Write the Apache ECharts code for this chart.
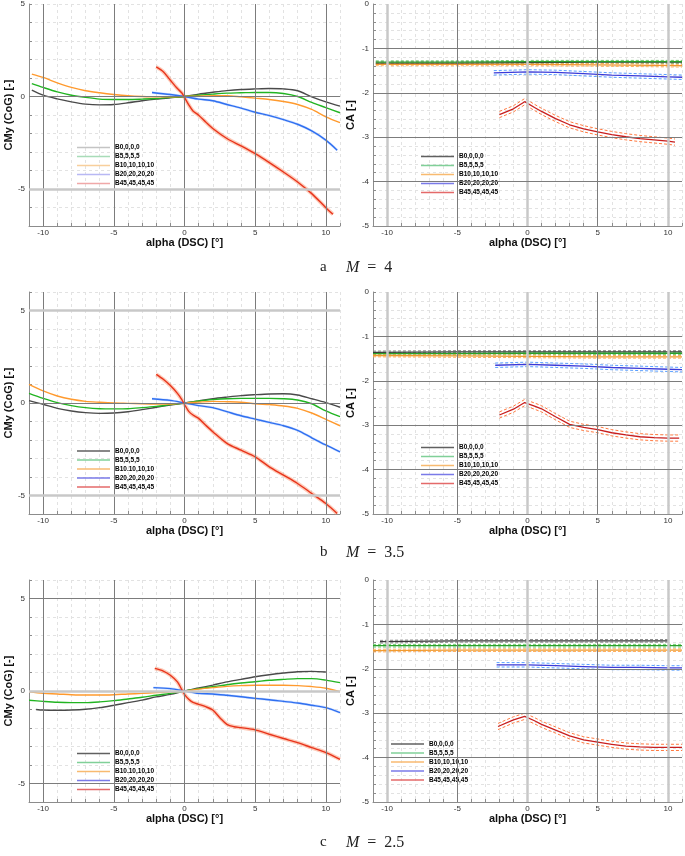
<!DOCTYPE html>
<html>
<head>
<meta charset="utf-8">
<script src="https://cdn.jsdelivr.net/npm/echarts@6/dist/echarts.min.js"></script>
<style>
  html, body { margin: 0; padding: 0; background: #fff; }
  #chart { width: 685px; height: 856px; }
</style>
</head>
<body>
<div id="chart"></div>
<script>
// legend names (panels b/c on the left have the "B10.10" typo of the original)
const configNames = ["B0,0,0,0", "B5,5,5,5", "B10,10,10,10", "B20,20,20,20", "B45,45,45,45"];
const configNamesAlt = ["B0,0,0,0", "B5,5,5,5", "B10.10,10,10", "B20,20,20,20", "B45,45,45,45"];
const panelLetters = ["a", "b", "c"];
const machNumbers = ["4", "3.5", "2.5"];

// ---- M = 4 : CMy ----
const alphaA_long = [-10.8, -10, -9, -8, -7, -6, -5, -4, -3, -2, -1, 0, 1, 2, 3, 4, 5, 6, 7, 8, 9, 10, 11];
const cmyA_B0 = [0.34, 0.07, -0.13, -0.29, -0.41, -0.45, -0.43, -0.34, -0.23, -0.14, -0.07, 0, 0.13, 0.23, 0.32, 0.38, 0.41, 0.43, 0.41, 0.31, -0.02, -0.29, -0.52];
const cmyA_B5 = [0.70, 0.49, 0.25, 0.07, -0.05, -0.14, -0.16, -0.16, -0.14, -0.11, -0.05, 0, 0.07, 0.13, 0.18, 0.20, 0.22, 0.22, 0.16, 0.00, -0.32, -0.60, -0.88];
const cmyA_B10 = [1.21, 1.03, 0.74, 0.49, 0.31, 0.20, 0.11, 0.04, 0.00, -0.02, -0.02, 0, 0.02, 0.04, 0.04, -0.02, -0.09, -0.16, -0.27, -0.43, -0.70, -1.10, -1.41];
const alphaA_b20 = [-2.3, -1, 0, 1, 2, 3, 4, 5, 6, 7, 8, 9, 10, 10.8];
const cmyA_B20 = [0.22, 0.11, 0, -0.14, -0.23, -0.43, -0.63, -0.85, -1.03, -1.25, -1.50, -1.86, -2.36, -2.90];
const alphaA_b45 = [-2, -1.5, -1, -0.5, -0.2, 0, 0.3, 0.6, 1, 1.5, 2, 3, 4, 5, 6, 7, 8, 9, 10, 10.5];
const cmyA_B45 = [1.60, 1.34, 0.88, 0.43, 0.20, -0.05, -0.45, -0.78, -1.01, -1.38, -1.73, -2.27, -2.67, -3.09, -3.57, -4.08, -4.62, -5.25, -6.01, -6.37];

// ---- M = 4 : CA ----
const alphaCaA = [-10.8, -5, 0, 5, 11];
const caA_B0 = [-1.33, -1.33, -1.32, -1.31, -1.31];
const caA_B5 = [-1.31, -1.31, -1.30, -1.30, -1.30];
const caA_B10 = [-1.36, -1.36, -1.36, -1.37, -1.39];
const alphaCaA_b20 = [-2.4, 0, 2, 4, 6, 8, 10, 11];
const caA_B20 = [-1.55, -1.53, -1.54, -1.57, -1.60, -1.62, -1.64, -1.65];
const alphaCaA_b45 = [-2, -1, -0.2, 0.5, 1, 2, 3, 4, 5, 6, 7, 8, 9, 10, 10.5];
const caA_B45 = [-2.49, -2.36, -2.20, -2.33, -2.42, -2.58, -2.72, -2.81, -2.88, -2.94, -2.99, -3.03, -3.06, -3.09, -3.11];

// ---- M = 3.5 : CMy ----
const alphaB_long = [-11, -10, -9, -8, -7, -6, -5, -4, -3, -2, -1, 0, 1, 2, 3, 4, 5, 6, 7, 8, 9, 10, 11];
const cmyB_B0 = [0.13, -0.07, -0.29, -0.43, -0.52, -0.56, -0.54, -0.47, -0.36, -0.23, -0.11, 0, 0.11, 0.23, 0.32, 0.40, 0.45, 0.49, 0.50, 0.43, 0.23, 0.02, -0.23];
const cmyB_B5 = [0.52, 0.25, 0.02, -0.14, -0.25, -0.31, -0.32, -0.31, -0.25, -0.18, -0.09, 0, 0.11, 0.18, 0.23, 0.25, 0.25, 0.25, 0.23, 0.16, -0.04, -0.43, -0.74];
const cmyB_B10 = [1.01, 0.65, 0.38, 0.20, 0.09, 0.04, 0.00, -0.02, -0.04, -0.05, -0.05, 0, 0.05, 0.09, 0.07, 0.04, -0.04, -0.09, -0.16, -0.29, -0.54, -0.88, -1.23];
const alphaB_b20 = [-2.3, -1, 0, 1, 2, 3, 4, 5, 6, 7, 8, 9, 10, 11];
const cmyB_B20 = [0.23, 0.14, 0, -0.14, -0.25, -0.47, -0.69, -0.87, -1.05, -1.23, -1.48, -1.88, -2.27, -2.64];
const alphaB_b45 = [-2, -1.5, -1, -0.5, -0.2, 0, 0.3, 0.6, 1, 1.5, 2, 3, 4, 5, 6, 7, 8, 9, 10, 10.8];
const cmyB_B45 = [1.55, 1.28, 0.94, 0.52, 0.20, -0.08, -0.45, -0.65, -0.83, -1.20, -1.55, -2.18, -2.55, -2.91, -3.45, -3.90, -4.35, -4.89, -5.43, -5.97];

// ---- M = 3.5 : CA ----
const alphaCaB = [-11, -5, 0, 5, 11];
const caB_B0 = [-1.36, -1.35, -1.35, -1.35, -1.35];
const caB_B5 = [-1.39, -1.39, -1.38, -1.38, -1.38];
const caB_B10 = [-1.43, -1.44, -1.45, -1.46, -1.46];
const alphaCaB_b20 = [-2.3, 0, 2, 4, 6, 8, 10, 11];
const caB_B20 = [-1.65, -1.63, -1.65, -1.67, -1.70, -1.72, -1.74, -1.75];
const alphaCaB_b45 = [-2, -1, -0.2, 0.5, 1, 2, 3, 4, 5, 6, 7, 8, 9, 10, 10.8];
const caB_B45 = [-2.77, -2.64, -2.49, -2.57, -2.63, -2.81, -2.98, -3.05, -3.10, -3.17, -3.22, -3.26, -3.28, -3.29, -3.29];

// ---- M = 2.5 : CMy ----
const alphaC_b0 = [-10.5, -10, -9, -8, -7, -6, -5, -4, -3, -2, -1, 0, 1, 2, 3, 4, 5, 6, 7, 8, 9, 10];
const cmyC_B0 = [-1.00, -1.03, -1.04, -1.03, -0.99, -0.90, -0.77, -0.63, -0.49, -0.32, -0.18, 0, 0.16, 0.32, 0.49, 0.63, 0.77, 0.88, 0.97, 1.04, 1.06, 1.03];
const alphaC_long = [-11, -10, -9, -8, -7, -6, -5, -4, -3, -2, -1, 0, 1, 2, 3, 4, 5, 6, 7, 8, 9, 10, 11];
const cmyC_B5 = [-0.50, -0.56, -0.61, -0.63, -0.63, -0.59, -0.52, -0.43, -0.34, -0.23, -0.13, 0, 0.13, 0.23, 0.34, 0.43, 0.50, 0.58, 0.63, 0.67, 0.67, 0.59, 0.45];
const cmyC_B10 = [-0.05, -0.13, -0.16, -0.20, -0.22, -0.22, -0.20, -0.16, -0.13, -0.09, -0.05, 0, 0.10, 0.18, 0.25, 0.29, 0.31, 0.31, 0.31, 0.29, 0.24, 0.15, -0.04];
const alphaC_b20 = [-2.2, -1, 0, 1, 2, 3, 4, 5, 6, 7, 8, 9, 10, 11];
const cmyC_B20 = [0.18, 0.13, 0, -0.13, -0.16, -0.23, -0.31, -0.40, -0.47, -0.56, -0.65, -0.77, -0.90, -1.17];
const alphaC_b45 = [-2.1, -1.5, -1, -0.5, -0.2, 0, 0.3, 0.6, 1, 1.5, 2, 2.5, 3, 3.5, 4, 5, 6, 7, 8, 9, 10, 11];
const cmyC_B45 = [1.22, 1.08, 0.85, 0.49, 0.09, -0.18, -0.45, -0.62, -0.72, -0.85, -1.03, -1.44, -1.80, -1.93, -1.98, -2.10, -2.34, -2.57, -2.79, -3.06, -3.33, -3.69];

// ---- M = 2.5 : CA ----
const alphaCaC_b0 = [-10.5, -5, 0, 5, 10];
const caC_B0 = [-1.39, -1.37, -1.37, -1.37, -1.37];
const alphaCaC = [-11, -5, 0, 5, 11];
const caC_B5 = [-1.48, -1.48, -1.48, -1.48, -1.48];
const caC_B10 = [-1.59, -1.58, -1.58, -1.58, -1.58];
const alphaCaC_b20 = [-2.2, 0, 2, 4, 6, 8, 10, 11];
const caC_B20 = [-1.91, -1.91, -1.93, -1.95, -1.97, -1.97, -1.98, -1.98];
const alphaCaC_b45 = [-2.1, -1, -0.2, 0.5, 1, 2, 3, 4, 5, 6, 7, 8, 9, 10, 11];
const caC_B45 = [-3.30, -3.15, -3.07, -3.17, -3.25, -3.38, -3.51, -3.60, -3.65, -3.70, -3.74, -3.76, -3.77, -3.77, -3.77];

// half width of the dashed uncertainty lines around CA, per configuration
const caSpread = [0.03, 0.03, 0.03, 0.05, 0.07];

// y ranges of the CMy panels
const cmyYMin = [-7, -6, -6];
const cmyYMax = [5, 6, 6];

// colours
const cmyColors = ["#4a4a4a", "#22b422", "#ff9a2e", "#2f6ff0", "#e8341c"];
const caColors = ["#3a3a3a", "#2aa02a", "#f09a30", "#3a3ad8", "#c81e1e"];
const caBandColors = ["#8a8a8a", "#72cc72", "#ffae5c", "#5aa0ff", "#ff7a40"];
const legendPale = ["#c4c4c4", "#a8dcb8", "#f8cf9c", "#b8b8f4", "#f0a8a8"];
const legendMid = ["#606060", "#80d098", "#f8ba70", "#7a7ae8", "#e46a6a"];

const FONT = "'Liberation Sans', Arial, sans-serif";
const dark = { color: "#7c7c7c", width: 1, type: "solid" };
const light = { color: "#c8c8c8", width: 2.5, type: "solid" };

const cmyCurves = [
  [[alphaA_long, cmyA_B0], [alphaA_long, cmyA_B5], [alphaA_long, cmyA_B10], [alphaA_b20, cmyA_B20], [alphaA_b45, cmyA_B45]],
  [[alphaB_long, cmyB_B0], [alphaB_long, cmyB_B5], [alphaB_long, cmyB_B10], [alphaB_b20, cmyB_B20], [alphaB_b45, cmyB_B45]],
  [[alphaC_b0, cmyC_B0], [alphaC_long, cmyC_B5], [alphaC_long, cmyC_B10], [alphaC_b20, cmyC_B20], [alphaC_b45, cmyC_B45]]
];
const caCurves = [
  [[alphaCaA, caA_B0], [alphaCaA, caA_B5], [alphaCaA, caA_B10], [alphaCaA_b20, caA_B20], [alphaCaA_b45, caA_B45]],
  [[alphaCaB, caB_B0], [alphaCaB, caB_B5], [alphaCaB, caB_B10], [alphaCaB_b20, caB_B20], [alphaCaB_b45, caB_B45]],
  [[alphaCaC_b0, caC_B0], [alphaCaC, caC_B5], [alphaCaC, caC_B10], [alphaCaC_b20, caC_B20], [alphaCaC_b45, caC_B45]]
];
const cmyYMajors = [
  [[0, dark], [-5, light]],
  [[5, light], [0, dark], [-5, light]],
  [[5, dark], [0, light], [-5, dark]]
];
const cmyLegendPos = [[77, 143], [77, 446.5], [77, 749]];
const caLegendPos = [[421, 152], [421, 443], [391, 739.5]];
const rowTops = [4, 292, 580];
const captionTops = [260, 545, 835];

const pair = (xs, ys) => xs.map((x, i) => [x, ys[i]]);

const grids = [], xAxes = [], yAxes = [], series = [], legends = [], graphics = [];

function addAxes(gi, left, width, top, yMin, yMax, yInterval, yName, yGap, isMajorY) {
  grids.push({ left: left, top: top, width: width, height: 222 });
  xAxes.push({
    type: "value", gridIndex: gi, min: -11, max: 11, interval: 1,
    name: "alpha (DSC) [°]", nameLocation: "middle", nameGap: 10,
    nameTextStyle: { fontFamily: FONT, fontWeight: "bold", fontSize: 11, color: "#111" },
    axisLine: { show: true, onZero: false, lineStyle: { color: "#8c8c8c" } },
    axisTick: { show: true, inside: true, length: 3, lineStyle: { color: "#8c8c8c" } },
    axisLabel: { fontFamily: FONT, fontSize: 8, color: "#333", margin: 3,
      formatter: v => (v % 5 === 0 ? String(v) : "") },
    splitLine: { show: true, lineStyle: { color: "#e2e2e2", type: [3, 3] } }
  });
  yAxes.push({
    type: "value", gridIndex: gi, min: yMin, max: yMax, interval: yInterval,
    name: yName, nameLocation: "middle", nameGap: yGap, nameRotate: 90,
    nameTextStyle: { fontFamily: FONT, fontWeight: "bold", fontSize: 11, color: "#111" },
    axisLine: { show: true, onZero: false, lineStyle: { color: "#8c8c8c" } },
    axisTick: { show: true, inside: true, length: 3, lineStyle: { color: "#8c8c8c" } },
    axisLabel: { fontFamily: FONT, fontSize: 8, color: "#333", margin: 4,
      formatter: v => (isMajorY(v) ? String(Math.round(v)) : "") },
    splitLine: { show: true, lineStyle: { color: "#e2e2e2", type: [3, 3] } }
  });
}

function addMajors(gi, xMaj, yMaj) {
  const data = xMaj.map(([v, s]) => ({ xAxis: v, lineStyle: s }))
    .concat(yMaj.map(([v, s]) => ({ yAxis: v, lineStyle: s })));
  series.push({
    type: "line", xAxisIndex: gi, yAxisIndex: gi, data: [], z: 1, silent: true,
    markLine: { silent: true, symbol: ["none", "none"], label: { show: false },
      animation: false, data: data }
  });
}

function addLegend(pos, names, colors) {
  legends.push({
    left: pos[0], top: pos[1], orient: "vertical", padding: 0, itemGap: 0,
    itemWidth: 33, itemHeight: 1.5, icon: "rect", selectedMode: false,
    data: names.map((n, k) => ({ name: n, itemStyle: { color: colors[k], opacity: 1 } })),
    textStyle: { fontFamily: FONT, fontWeight: "bold", fontSize: 6.5, lineHeight: 9, color: "#000" }
  });
}

for (let r = 0; r < 3; r++) {
  // left: CMy
  const gL = 2 * r;
  addAxes(gL, 29, 311, rowTops[r], cmyYMin[r], cmyYMax[r], 1, "CMy (CoG) [-]", 15,
    v => Math.abs(v % 5) < 1e-9);
  addMajors(gL, [[-10, dark], [-5, dark], [0, dark], [5, dark], [10, dark]], cmyYMajors[r]);
  const namesL = r === 0 ? configNames : configNamesAlt;
  cmyCurves[r].forEach(([xs, ys], k) => {
    if (k >= 3) {
      // light band of the scatter around the blue / red curves
      series.push({
        type: "line", xAxisIndex: gL, yAxisIndex: gL, data: pair(xs, ys), z: 2,
        showSymbol: false, smooth: 0.3, silent: true,
        lineStyle: { color: k === 4 ? "rgba(250,140,100,0.45)" : "rgba(120,165,255,0.35)", width: k === 4 ? 4 : 2.5 }
      });
    }
    series.push({
      name: namesL[k], type: "line", xAxisIndex: gL, yAxisIndex: gL, data: pair(xs, ys), z: 3,
      showSymbol: false, smooth: 0.3,
      itemStyle: { color: cmyColors[k] },
      lineStyle: { color: cmyColors[k], width: 1.4 }
    });
  });
  addLegend(cmyLegendPos[r], namesL, r === 0 ? legendPale : legendMid);

  // right: CA
  const gR = 2 * r + 1;
  addAxes(gR, 373, 310, rowTops[r], -5, 0, 0.2, "CA [-]", 17,
    v => Math.abs(v - Math.round(v)) < 1e-6);
  addMajors(gR, [[-10, light], [-5, dark], [0, light], [5, dark], [10, light]],
    [[-1, dark], [-2, dark], [-3, dark], [-4, dark]]);
  caCurves[r].forEach(([xs, ys], k) => {
    [1, -1].forEach(sign => {
      series.push({
        type: "line", xAxisIndex: gR, yAxisIndex: gR, z: 2, silent: true, showSymbol: false,
        data: pair(xs, ys.map(v => v + sign * caSpread[k])),
        lineStyle: { color: caBandColors[k], width: 1, type: [3, 2] }
      });
    });
    series.push({
      name: configNames[k], type: "line", xAxisIndex: gR, yAxisIndex: gR, data: pair(xs, ys), z: 3,
      showSymbol: false,
      itemStyle: { color: caColors[k] },
      lineStyle: { color: caColors[k], width: 1.3 }
    });
  });
  addLegend(caLegendPos[r], configNames, legendMid);

  // caption under each row
  graphics.push({ type: "text", left: 320, top: captionTops[r],
    style: { text: panelLetters[r], fontFamily: "'Liberation Serif', serif", fontSize: 15, fill: "#222" } });
  graphics.push({ type: "text", left: 346, top: captionTops[r],
    style: { text: "{m|M}  =  " + machNumbers[r], fontFamily: "'Liberation Serif', serif", fontSize: 16, fill: "#222",
      rich: { m: { fontFamily: "'Liberation Serif', serif", fontStyle: "italic", fontSize: 16, fill: "#222" } } } });
}

const chart = echarts.init(document.getElementById("chart"), null, { width: 685, height: 856 });
chart.setOption({
  animation: false,
  backgroundColor: "#fff",
  grid: grids,
  xAxis: xAxes,
  yAxis: yAxes,
  legend: legends,
  series: series,
  graphic: graphics
});
</script>
</body>
</html>
